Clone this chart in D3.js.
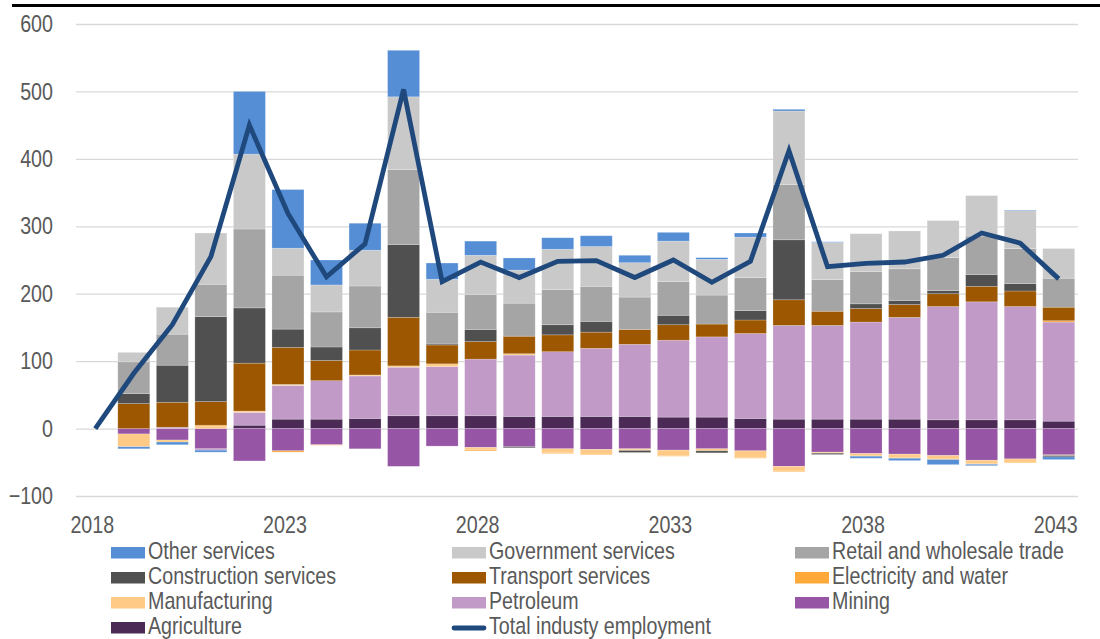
<!DOCTYPE html>
<html>
<head>
<meta charset="utf-8">
<script src="https://cdn.jsdelivr.net/npm/d3@7"></script>
<style>
  body{margin:0;background:#fff;}
  svg text{font-family:"Liberation Sans",Arial,sans-serif;}
</style>
</head>
<body>
<svg id="chart" width="1100" height="639"></svg>
<script>
'use strict';

var years=d3.range(2018,2044);
var tickYears=[2018,2023,2028,2033,2038,2043];
var yTicks=[-100,0,100,200,300,400,500,600];

var agriculture=[0,0,0,0,5,14,14,15,19,19,19,18,18,18,18,17,17,15,14,14,14,14,13,13,13,11];
var mining=[0,-8,-17,-30,-48,-33,-24,-30,-56,-26,-28,-27,-30,-31,-30,-32,-30,-33,-56,-35,-37,-38,-40,-47,-45,-39];
var petroleum=[0,0,2,-2,19,50,57,63,72,73,84,91,96,101,107,114,119,126,139,139,144,151,168,175,168,147];
var manufacturing=[0,-19,-3,3,2,1.5,-1,1.5,2,4,-3,2,-6,-7,-1.5,-8,-3,-10,-7,-1.5,-3,-5,-5,-5,-5,-1];
var electricity=[0,0,0,2,0,-2,0,0,0,0,-2,0,-1,-1,-1,-1,0,-1,-1,0,-1,-1,-1,-1,-1,2];
var transport=[0,37,37,35,71,55,30,37,72,28,26,26,25,24,22,23,19,20,38,21,20,19,19,23,23,20];
var construction=[0,15,55,126,82,27,20,33,108,1.5,18,-1.5,15,16,-3,14,-3,14,89,-2,7,6,4.5,17.5,11,-2];
var retail=[0,47,46,48,117,80,52,62,111,47,52,49,52,52,48,50,43,49,82,47,48,47,49,57,52,43];
var government=[0,14,40,76,111,40,40,53,108,49,58,49,60,59,51,60,53,60,109,55,56,56,55,60,56,44];
var other=[0,-3,-4,-3,93,87,37,40,69,24,21,18,17,16,11,13,2.5,6,2.5,1,-3,-3.5,-7.5,-2,1,-4];
var total=[0,82,154,255,450,319,225,274,503,218,247,224,248,249,224,250,217,248,412,240,245,247,257,290,275,222];

// stack order: bottom first
var series=[
    {key:'Agriculture',values:agriculture,color:'#4B2A56'},
    {key:'Mining',values:mining,color:'#9655A5'},
    {key:'Petroleum',values:petroleum,color:'#C29AC8'},
    {key:'Manufacturing',values:manufacturing,color:'#FFCA85'},
    {key:'Electricity and water',values:electricity,color:'#FFA93A'},
    {key:'Transport services',values:transport,color:'#9C5700'},
    {key:'Construction services',values:construction,color:'#505050'},
    {key:'Retail and wholesale trade',values:retail,color:'#A5A5A5'},
    {key:'Government services',values:government,color:'#C9C9C9'},
    {key:'Other services',values:other,color:'#558ED5'}
];
var lineColor='#1F497D';

var legendOrder=['Other services','Government services','Retail and wholesale trade',
    'Construction services','Transport services','Electricity and water',
    'Manufacturing','Petroleum','Mining','Agriculture','Total industy employment'];

(function(){
var svg=d3.select('#chart')
  , x0=76, x1=1078, y0=24, y1=496
  , narrow='scale(0.82,1)'   // fake Arial Narrow
  , fs=24;

var table=years.map(function(yr,i){
    var row={year:yr};
    series.forEach(function(s){row[s.key]=s.values[i];});
    return row;
});

var x=d3.scaleBand().domain(years).range([x0,x1]).paddingInner(0.17).paddingOuter(0.085)
  , y=d3.scaleLinear().domain([-100,600]).range([y1,y0]);

var stack=d3.stack()
    .keys(series.map(function(s){return s.key;}))
    .offset(d3.stackOffsetDiverging)(table);

// top rule
svg.append('rect').attr('x',12).attr('y',4).attr('width',1088).attr('height',3).attr('fill','#000');

// grid
svg.append('g')
    .attr('transform','translate('+x0+',0)')
    .call(d3.axisLeft(y).tickValues(yTicks).tickSize(-(x1-x0)).tickFormat(''))
    .call(function(g){
        g.select('.domain').remove();
        g.selectAll('line').attr('stroke','#D9D9D9').attr('stroke-width',1.3);
    });

// y labels
svg.append('g')
    .attr('transform','translate(53,0)')
    .call(d3.axisLeft(y).tickValues(yTicks).tickSize(0).tickPadding(0))
    .call(function(g){
        g.select('.domain').remove();
        g.selectAll('text').attr('x',0).attr('font-size',fs).attr('fill','#595959')
            .attr('font-family','"Liberation Sans",Arial,sans-serif').attr('transform',narrow);
    });

// bars
var colorOf={};
series.forEach(function(s){colorOf[s.key]=s.color;});

svg.append('g').selectAll('g')
    .data(stack)
    .join('g')
    .attr('fill',function(d){return colorOf[d.key];})
    .selectAll('rect')
    .data(function(d){return d;})
    .join('rect')
    .attr('x',function(d){return x(d.data.year);})
    .attr('width',x.bandwidth())
    .attr('y',function(d){return y(Math.max(d[0],d[1]));})
    .attr('height',function(d){return Math.abs(y(d[0])-y(d[1]));})
    .attr('stroke','#ffffff').attr('stroke-opacity',0.3).attr('stroke-width',0.7);

// total line
var line=d3.line()
    .x(function(d,i){return x(years[i])+x.bandwidth()/2;})
    .y(function(d){return y(d);});

svg.append('path')
    .datum(total)
    .attr('d',line)
    .attr('fill','none')
    .attr('stroke',lineColor)
    .attr('stroke-width',4.8)
    .attr('stroke-linejoin','miter');

// x labels
svg.append('g')
    .attr('transform','translate(-3,533)')
    .call(d3.axisBottom(x).tickValues(tickYears).tickSize(0).tickPadding(0))
    .call(function(g){
        g.select('.domain').remove();
        g.selectAll('text').attr('y',0).attr('dy',0).attr('font-size',fs).attr('fill','#595959')
            .attr('font-family','"Liberation Sans",Arial,sans-serif').attr('transform',narrow);
    });

// legend
var colX=[111,452,795], rowY=[559,584,609,634];
var leg=svg.append('g').selectAll('g')
    .data(legendOrder)
    .join('g')
    .attr('transform',function(d,i){return 'translate('+colX[i%3]+','+rowY[Math.floor(i/3)]+')';});

leg.each(function(d){
    var g=d3.select(this);
    if(d==='Total industy employment'){
        g.append('line').attr('x1',2).attr('x2',32).attr('y1',-6).attr('y2',-6)
            .attr('stroke',lineColor).attr('stroke-width',4.8).attr('stroke-linecap','round');
    }else{
        g.append('rect').attr('x',0).attr('y',-12).attr('width',34).attr('height',11.5).attr('fill',colorOf[d]);
    }
    g.append('text').attr('transform','translate(37,0) '+narrow)
        .attr('font-size',fs).attr('fill','#595959').text(d);
});
})();
</script>
</body>
</html>
